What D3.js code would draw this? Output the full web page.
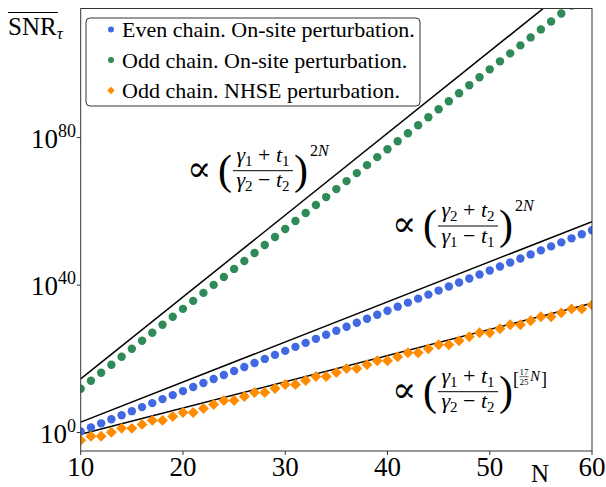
<!DOCTYPE html>
<html><head><meta charset="utf-8">
<script src="https://cdn.jsdelivr.net/npm/d3@7/dist/d3.min.js"></script>
<style>
body{margin:0;background:#fff;}
svg{display:block;}
</style></head>
<body><svg id="c" width="606" height="487" font-family="'Liberation Serif', 'Times New Roman', Times, 'DejaVu Serif', serif"></svg>
<script>
// N values
const N = [10,11,12,13,14,15,16,17,18,19,20,21,22,23,24,25,26,27,28,29,30,31,32,33,34,35,36,37,38,39,40,41,42,43,44,45,46,47,48,49,50,51,52,53,54,55,56,57,58,59,60];
// log10 of SNR
const evenOnsite = [0.30,1.40,2.50,3.60,4.70,5.80,6.90,7.98,9.07,10.16,11.25,12.34,13.43,14.52,15.61,16.70,17.79,18.88,19.97,21.06,22.15,23.24,24.33,25.42,26.51,27.60,28.69,29.78,30.87,31.96,33.05,34.14,35.23,36.32,37.41,38.50,39.59,40.68,41.77,42.86,43.95,45.04,46.13,47.22,48.31,49.40,50.49,51.58,52.67,53.76,54.85];
const oddOnsite = [11.90,14.07,16.23,18.40,20.56,22.73,24.89,27.06,29.22,31.39,33.55,35.72,37.88,40.05,42.21,44.38,46.54,48.71,50.87,53.04,55.20,57.37,59.53,61.70,63.86,66.03,68.19,70.36,72.52,74.69,76.85,79.02,81.18,83.35,85.51,87.68,89.84,92.01,94.17,96.34,98.50,100.67,102.83,105.00,107.16,109.33,111.49,113.66,115.82,117.99,120.15];
const oddNHSE = [-2.10,-1.02,-1.02,0.06,1.14,1.14,2.22,3.30,3.30,4.38,5.46,5.46,6.54,7.62,8.70,8.70,9.78,10.86,10.86,11.94,13.02,13.02,14.10,15.18,15.18,16.26,17.34,17.34,18.42,19.50,19.50,20.58,21.66,21.66,22.74,23.82,23.82,24.90,25.98,27.06,27.06,28.14,29.22,29.22,30.30,31.38,31.38,32.46,33.54,33.54,34.62];
// guide lines (N, log10)
const guideOdd = [[10,14.56],[60,125.6]];
const guideEven = [[10,2.82],[60,57.2]];
const guideNHSE = [[10,-0.45],[60,35.1]];
const xTicks = [10,20,30,40,50,60];
const yTickExp = [0,40,80];
const legendLabels = ["Even chain. On-site perturbation.","Odd chain. On-site perturbation.","Odd chain. NHSE perturbation."];
const colors = {blue:"#4169e1", green:"#2e8b57", orange:"#ff8c00"};

const FONT = "'Liberation Serif', 'Times New Roman', Times, 'DejaVu Serif', serif";
const svg = d3.select("#c");
const L=80.7, R=592, T=8.5, B=451;
const x = d3.scaleLinear().domain([10,60]).range([L,R]);
const y = d3.scaleLog().domain([1e-5,1e115]).range([B,T]);

function txt(parent){ return parent.append("text").attr("font-family",FONT); }

svg.append("defs").append("clipPath").attr("id","clip")
  .append("rect").attr("x",L).attr("y",T).attr("width",R-L).attr("height",B-T);

const plot = svg.append("g").attr("clip-path","url(#clip)");

// guide lines
const line = d3.line().x(d=>x(d[0])).y(d=>y(Math.pow(10,d[1])));
[guideOdd,guideEven,guideNHSE].forEach(g=>{
  plot.append("path").attr("d",line(g)).attr("fill","none").attr("stroke","#000").attr("stroke-width",1.5);
});

// points
function dots(vals,col){
  plot.append("g").selectAll("circle").data(N.map((n,i)=>[n,vals[i]])).join("circle")
    .attr("cx",d=>x(d[0])).attr("cy",d=>y(Math.pow(10,d[1]))).attr("r",4.2).attr("fill",col);
}
dots(oddOnsite,colors.green);
dots(evenOnsite,colors.blue);
const sq = d3.symbol().type(d3.symbolSquare).size(60);
plot.append("g").selectAll("path").data(N.map((n,i)=>[n,oddNHSE[i]])).join("path")
  .attr("d",sq).attr("transform",d=>`translate(${x(d[0])},${y(Math.pow(10,d[1]))}) rotate(45)`).attr("fill",colors.orange);

// frame
svg.append("rect").attr("x",L).attr("y",T).attr("width",R-L).attr("height",B-T)
  .attr("fill","none").attr("stroke","#333").attr("stroke-width",1);

// x axis ticks
const xa = svg.append("g");
xTicks.forEach(t=>{
  xa.append("line").attr("x1",x(t)).attr("x2",x(t)).attr("y1",B).attr("y2",B+4).attr("stroke","#333");
  txt(xa).attr("x",x(t)).attr("y",476).attr("text-anchor","middle").attr("font-size",27).text(t);
});
txt(svg).attr("x",540).attr("y",482).attr("text-anchor","middle").attr("font-size",25).text("N");

// y axis ticks
yTickExp.forEach(e=>{
  const yy = y(Math.pow(10,e));
  svg.append("line").attr("x1",L-4).attr("x2",L).attr("y1",yy).attr("y2",yy).attr("stroke","#333");
  const t = txt(svg).attr("x",76).attr("y",yy+10).attr("text-anchor","end").attr("font-size",27);
  t.append("tspan").text("10");
  t.append("tspan").attr("font-size",18).attr("dy",-11).text(e);
});

// y title
const yt = txt(svg).attr("x",8).attr("y",35).attr("font-size",25);
yt.append("tspan").text("SNR");
yt.append("tspan").attr("font-size",17).attr("font-style","italic").attr("dy",4).text("τ");
svg.append("line").attr("x1",8).attr("x2",58).attr("y1",12.5).attr("y2",12.5).attr("stroke","#000").attr("stroke-width",1.2);

// legend
const lg = svg.append("g");
lg.append("rect").attr("x",86).attr("y",18).attr("width",334).attr("height",88).attr("rx",4)
  .attr("fill","#fff").attr("fill-opacity",0.85).attr("stroke","#333").attr("stroke-width",1);
const legCols=[colors.blue,colors.green,colors.orange];
const rowsY=[29.5,60,90.5];
legendLabels.forEach((lab,i)=>{
  if(i<2) lg.append("circle").attr("cx",111).attr("cy",rowsY[i]).attr("r",3).attr("fill",legCols[i]);
  else lg.append("path").attr("d",d3.symbol().type(d3.symbolSquare).size(28)()).attr("transform",`translate(111,${rowsY[i]}) rotate(45)`).attr("fill",legCols[i]);
  txt(lg).attr("x",122).attr("y",rowsY[i]+7.5).attr("font-size",22).text(lab);
});

// math labels
function mathLabel(x0,yb,num,den,supFn){
  const g = svg.append("g");
  g.append("text").attr("x",x0-1).attr("y",yb+10).attr("font-size",36).attr("font-family","'DejaVu Serif', serif").text("∝");
  txt(g).attr("x",x0+30).attr("y",yb+13).attr("font-size",42).text("(");
  txt(g).attr("x",x0+106).attr("y",yb+13).attr("font-size",42).text(")");
  function part(parts,yy){
    const t=txt(g).attr("x",x0+75).attr("y",yy).attr("font-size",22).attr("text-anchor","middle");
    parts.forEach(p=>{
      const s=t.append("tspan").text(p[0]);
      if(p[1]==="i") s.attr("font-style","italic");
      if(p[1]==="s") s.attr("font-size",15).attr("dy",4);
      if(p[1]==="u") s.attr("dy",-4);
    });
  }
  part(num,yb-9);
  part(den,yb+16.5);
  g.append("line").attr("x1",x0+45).attr("x2",x0+105).attr("y1",yb).attr("y2",yb).attr("stroke","#000").attr("stroke-width",1);
  supFn(g,x0+122,yb-15);
}
const sup2N=(g,xx,yy)=>{
  const t=txt(g).attr("x",xx).attr("y",yy).attr("font-size",16);
  t.append("tspan").text("2");
  t.append("tspan").attr("font-style","italic").text("N");
};
mathLabel(188,170.7,[["γ","i"],["1","s"],[" + ","u"],["t","i"],["1","s"]],[["γ","i"],["2","s"],[" − ","u"],["t","i"],["2","s"]],sup2N);
mathLabel(393,226,[["γ","i"],["2","s"],[" + ","u"],["t","i"],["2","s"]],[["γ","i"],["1","s"],[" − ","u"],["t","i"],["1","s"]],sup2N);
mathLabel(393,391.7,[["γ","i"],["1","s"],[" + ","u"],["t","i"],["1","s"]],[["γ","i"],["2","s"],[" − ","u"],["t","i"],["2","s"]],(g,xx,yy)=>{
  txt(g).attr("x",xx-2).attr("y",yy+8).attr("font-size",18).text("[");
  txt(g).attr("x",xx+9).attr("y",yy-2).attr("font-size",9).attr("text-anchor","middle").text("17");
  g.append("line").attr("x1",xx+4.5).attr("x2",xx+13.5).attr("y1",yy).attr("y2",yy).attr("stroke","#000").attr("stroke-width",0.6);
  txt(g).attr("x",xx+9).attr("y",yy+8).attr("font-size",9).attr("text-anchor","middle").text("25");
  txt(g).attr("x",xx+15).attr("y",yy+4).attr("font-size",15).attr("font-style","italic").text("N");
  txt(g).attr("x",xx+26).attr("y",yy+8).attr("font-size",18).text("]");
});
</script></body></html>
